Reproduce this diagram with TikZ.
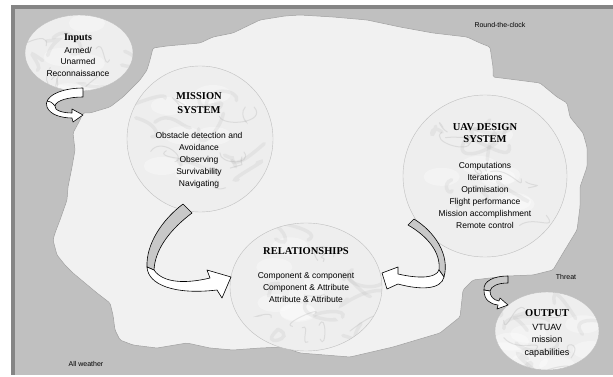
\documentclass[tikz,border=0pt]{standalone}
\usepackage{fontspec}
\setmainfont{Liberation Sans}
\newfontfamily\titlefont{Liberation Serif}
\usetikzlibrary{shapes,positioning,calc}

\definecolor{panel}{HTML}{C0C0C0}
\definecolor{panelrim}{HTML}{858585}
\definecolor{cloud}{HTML}{F1F1F1}
\definecolor{ribbon}{HTML}{C8C8C8}

\tikzset{
  bubble/.style={ellipse, draw=gray!50, fill=gray!13, inner sep=0pt,
    path picture={
      \foreach \v in {1,...,7}{
        \fill[white, opacity=0.35]
          ($(path picture bounding box.center)+(rand*45,rand*45)$) ellipse [x radius=18, y radius=9];
      }
      \foreach \v in {1,...,10}{
        \draw[gray!70, line width=3.5pt, opacity=0.14, line cap=round]
          ($(path picture bounding box.center)+(rand*50,rand*50)$)
          .. controls +(rand*25,rand*25) and +(rand*25,rand*25) .. +(rand*45,rand*20);
      }
      \foreach \v in {1,...,8}{
        \draw[gray!80, line width=1pt, opacity=0.22, line cap=round]
          ($(path picture bounding box.center)+(rand*50,rand*50)$)
          .. controls +(rand*20,rand*20) and +(rand*20,rand*20) .. +(rand*35,rand*15);
      }}},
  heading/.style={font=\titlefont\bfseries\fontsize{10.5}{14}\selectfont, align=center, inner sep=0pt, anchor=north},
  body/.style={font=\fontsize{8.5}{12}\selectfont, align=center, inner sep=0pt, anchor=north},
  tag/.style={font=\fontsize{7}{8}\selectfont, inner sep=0pt},
  backface/.style={fill=ribbon, draw=black, line width=0.6pt, line join=round},
  frontface/.style={fill=white, draw=black, line width=0.6pt, line join=round},
}

\begin{document}
\begin{tikzpicture}[x=1pt, y=-1pt]
\pgfmathsetseed{12}
\useasboundingbox (0,0) rectangle (613,377);
\fill[white] (0,0) rectangle (613,377);
% grey panel, darker rim on top and left
\fill[panelrim] (11,5) rectangle (613,375);
\fill[panel] (15,9) rectangle (613,375);

% the cloud
\filldraw[fill=cloud, draw=gray!75, line width=0.5pt, rounded corners=1.5pt]
  (153,48) -- (167,46) -- (200,43) -- (213,37) -- (233,33) -- (260,20) -- (285,16) -- (300,15)
  -- (333,17) -- (367,20) -- (400,27) -- (433,33) -- (467,37) -- (480,43) -- (490,47) -- (493,67)
  -- (493,77) -- (517,80) -- (540,83) -- (557,97) -- (567,103) -- (570,117) -- (583,133) -- (587,147)
  -- (587,167) -- (580,187) -- (580,207) -- (577,230) -- (563,253) -- (553,270) -- (533,275) -- (507,276)
  -- (490,278) -- (473,280) -- (463,290) -- (460,317) -- (440,333) -- (393,347) -- (350,357) -- (300,353)
  -- (283,347) -- (260,348) -- (233,350) -- (210,348) -- (187,343) -- (157,348) -- (133,345) -- (120,340)
  -- (115,330) -- (113,315) -- (110,303) -- (97,293) -- (85,283) -- (73,273) -- (65,265) -- (57,255)
  -- (53,240) -- (55,233) -- (60,220) -- (67,200) -- (68,187) -- (72,167) -- (75,150) -- (73,133)
  -- (80,120) -- (83,113) -- (90,113) -- (110,107) -- (123,97) -- (133,87) -- (140,80) -- (147,70)
  -- (150,60) -- cycle;

% bubbles
\node[bubble, minimum width=108pt, minimum height=76pt] (inputs) at (79,53) {};
\node[bubble, minimum width=146pt, minimum height=146pt] (mission) at (200,139) {};
\node[bubble, minimum width=164pt, minimum height=162pt] (design) at (485,176) {};
\node[bubble, minimum width=152pt, minimum height=128pt] (relations) at (306,287) {};
\node[bubble, minimum width=104pt, minimum height=78pt] (output) at (547,331) {};

% bubble texts
\node[heading, font=\titlefont\bfseries\fontsize{10}{12}\selectfont] (inputsHead) at (78,33.5) {Inputs};
\node[body, font=\fontsize{8.5}{11.5}\selectfont] (inputsText) at (78,47) {Armed/\\Unarmed\\Reconnaissance};
\node[heading] (missionHead) at (199,92.5) {MISSION\\SYSTEM};
\node[body] (missionText) at (199,132) {Obstacle detection and\\Avoidance\\Observing\\Survivability\\Navigating};
\node[heading, font=\titlefont\bfseries\fontsize{10.5}{12}\selectfont] (designHead) at (485,123.5) {UAV DESIGN\\SYSTEM};
\node[body] (designText) at (485,162) {Computations\\Iterations\\Optimisation\\Flight performance\\Mission accomplishment\\Remote control};
\node[heading] (relationsHead) at (306,247.5) {RELATIONSHIPS};
\node[body] (relationsText) at (306,272) {Component \& component\\Component \& Attribute\\Attribute \& Attribute};
\node[heading] (outputHead) at (547,309.5) {OUTPUT};
\node[body, font=\fontsize{9}{12.5}\selectfont] (outputText) at (547,324) {VTUAV\\mission\\capabilities};

% twisted arrows
% inputs -> cloud
\filldraw[frontface] (83,88) .. controls (60,88) and (43,97) .. (47,107)
  .. controls (50,115) and (62,118) .. (72,118) -- (73,122) -- (83,115) -- (72,109) -- (72,113)
  .. controls (62,113) and (54,110) .. (55,106) .. controls (56,100) and (70,97) .. (83,97) -- cycle;
\draw[line width=0.6pt] (55,106) .. controls (52,102) and (49,101) .. (47,101);
% mission -> relations
\filldraw[backface] (183,204) -- (192,213) .. controls (172,228) and (155,248) .. (154,270)
  -- (147,267) .. controls (146,244) and (162,220) .. (183,204) -- cycle;
\filldraw[frontface] (147,267) .. controls (148,285) and (175,295) .. (217,290) -- (222,298)
  -- (231,277) -- (207,270) -- (210,278) .. controls (185,284) and (163,283) .. (154,270) -- cycle;
% design -> relations
\filldraw[backface] (408,225) -- (414,219) .. controls (435,232) and (450,255) .. (444,277)
  -- (439,270) .. controls (441,252) and (427,236) .. (408,225) -- cycle;
\filldraw[frontface] (444,277) .. controls (441,290) and (420,290) .. (398,284) -- (387,289)
  -- (382,273) -- (398,267) -- (398,274) .. controls (420,279) and (436,278) .. (439,270) -- cycle;
% cloud -> output
\filldraw[backface] (508,276) -- (508,283) .. controls (498,283) and (491,286) .. (490,291)
  -- (484,290) .. controls (483,281) and (494,276) .. (508,276) -- cycle;
\filldraw[frontface] (484,290) .. controls (484,300) and (490,304) .. (498,305) -- (497,309)
  -- (508,305) -- (500,298) -- (499,301) .. controls (493,300) and (490,296) .. (490,291) -- cycle;

% conditions around the cloud
\node[tag] (clock) at (500,25) {Round-the-clock};
\node[tag] (threat) at (566,277) {Threat};
\node[tag] (weather) at (86,364) {All weather};
\end{tikzpicture}
\end{document}
